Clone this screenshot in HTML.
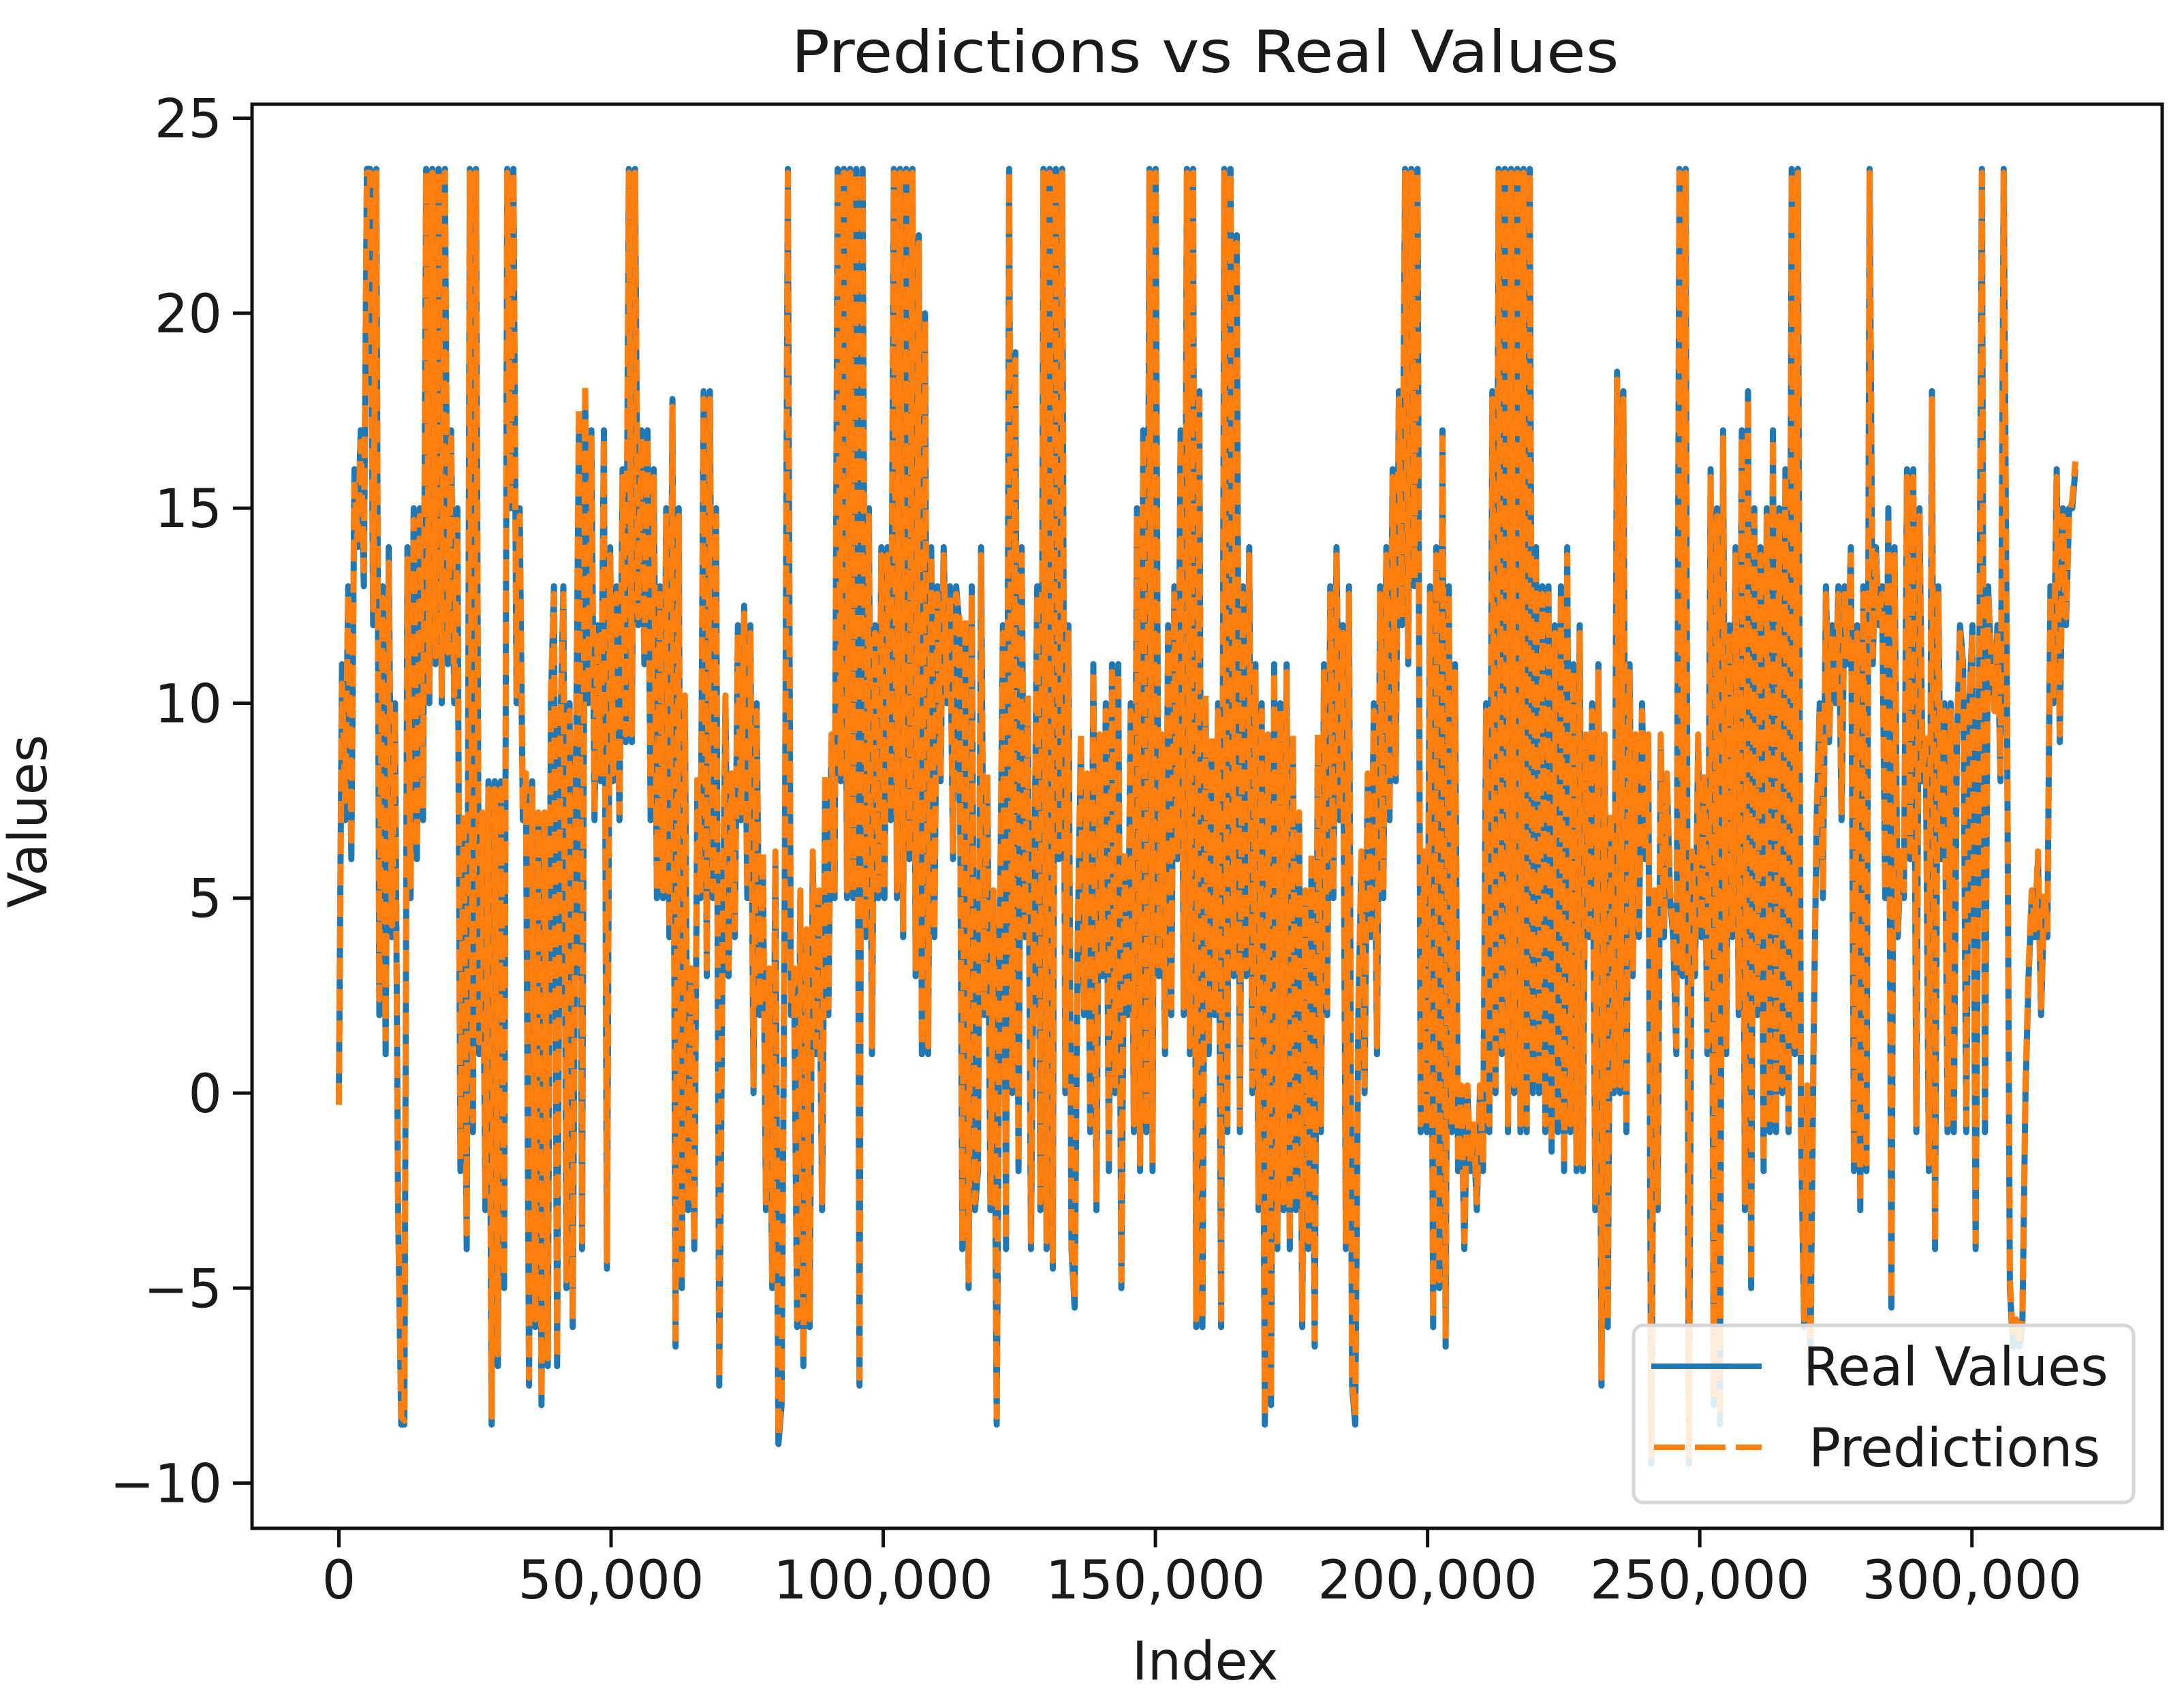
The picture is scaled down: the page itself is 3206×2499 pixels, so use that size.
<!DOCTYPE html>
<html><head><meta charset="utf-8"><style>
html,body{margin:0;padding:0;background:#fff}
svg{display:block}
text{font-family:"DejaVu Sans","Liberation Sans",sans-serif;fill:#1a1a1a}
</style></head><body>
<svg id="chart" width="3206" height="2499" viewBox="0 0 3206 2499" xmlns="http://www.w3.org/2000/svg">
<rect width="3206" height="2499" fill="#fff"/>
<text x="1769" y="106" font-size="86" text-anchor="middle" textLength="1215" lengthAdjust="spacingAndGlyphs">Predictions vs Real Values</text>
<g id="plot"></g>
<g id="axes"></g>
<text x="1769" y="2466" font-size="78" text-anchor="middle">Index</text>
<text x="0" y="0" font-size="78" text-anchor="middle" transform="translate(68,1206) rotate(-90)">Values</text>
<g>
<rect x="2398" y="1946" width="734" height="260" rx="14" fill="#fff" fill-opacity="0.85" stroke="#d6d6d6" stroke-width="5"/>
<line x1="2424" y1="2006" x2="2586" y2="2006" stroke="#1f77b4" stroke-width="8"/>
<text x="2647" y="2034" font-size="78">Real Values</text>
<line x1="2428" y1="2125" x2="2586" y2="2125" stroke="#ff7f0e" stroke-width="8" stroke-dasharray="45,15"/>
<text x="2655" y="2153" font-size="78">Predictions</text>
</g>
</svg>
<script>
const xTicks = [0, 50000, 100000, 150000, 200000, 250000, 300000];
const xTickLabels = ["0","50,000","100,000","150,000","200,000","250,000","300,000"];
const yTicks = [-10, -5, 0, 5, 10, 15, 20, 25];
const yTickLabels = ["\u221210","\u22125","0","5","10","15","20","25"];
const indexEnd = 319000;
const realValues = [0,11,7,13,6,16,14,17,13,23.7,23.7,12,23.7,2,13,1,14,4,10,-3,-8.5,-8.5,14,5,15,6,15,7,23.7,10,23.7,11,23.7,10,23.7,11,17,10,15,-2,7,-4,23.7,-1,23.7,1,7,-3,8,-8.5,8,-7,8,-5,23.7,15,23.7,10,15,7,8,-7.5,8,-6,7,-8,7,-7,10,13,-7,9,13,-5,10,-6,8,17,-4,18,10,17,7,12,8,17,-4.5,14,8,13,7,16,9,23.7,9,23.7,12,17,11,17,7,16,5,13,5,15,4,17.8,-6.5,15,-5,10,-3,3,-4,8,5,18,3,18,5,15,-7.5,3,10,3,8,4,12,7,12.5,5,12,0,10,2,6,-3,3,-5,6,-9,-8,5,23.7,2,3,-6,5,-7,4,-6,6,1,5,-3,8,2,9,5,23.7,8,23.7,5,23.7,5,23.7,-7.5,23.7,4,15,1,12,5,14,5,14,7,23.7,5,23.7,4,23.7,6,23.7,3,22,1,20,1,14,4,13,8,14,10,13,6,13,12,-4,12,-5,13,-3,-2,14,2,8,-3,5,-8.5,4,12,-4,23.7,0,19,-2,14,4,10,-4,5,13,-3,23.7,-4,23.7,-4.5,23.7,6,23.7,0,12,-4,-5.5,4,9,2,8,-1,11,-3,9,3,10,-2,11,0,11,-5,6,2,10,-1,15,-2,17,-1,23.7,-2,23.7,3,9,1,12,2,13,6,17,2,23.7,1,23.7,-6,18,-6,10,1,9,2,10,-6,23.7,-1,23.7,3,22,-1,13,3,14,0,11,-3,10,-8.5,9,-8,11,-4,10,-3,11,-4,9,-3,7,-6,5,-4,6,-6.5,9,-1,11,2,13,5,14,7,12,-4,13,-7.5,-8.5,2,6,0,8,4,10,1,13,5,14,7,16,8,18,12,23.7,11,23.7,13,23.7,-1,6,-1,13,-6,14,-5,17,-6.5,13,-1,11,-2,0,-4,0,-2,-1,-3,0,-2,10,-1,18,0,23.7,1,23.7,-1,23.7,0,23.7,-1,23.7,-1,23.7,0,14,0,13,-1,13,-1.5,12,-1,13,-2,14,-1,11,-2,12,-2,9,4,10,-3,11,-7.5,9,-6,7,0,18.5,0,18,-1,11,3,9,4,10,6,9,-9.5,5,-3,9,4,8,5,4,1,23.7,3,23.7,-9.5,6,3,9,4,8,1,16,-8,15,-8.5,17,1,12,4,14,2,17,-3,18,-5,15,2,14,-2,15,-1,17,-1,15,0,16,-1,23.7,1,23.7,-1,-6,0,-7,1,7,10,5,13,9,12,10,13,7,13,11,14,-2,12,-3,13,-2,23.7,11,14,12,13,5,15,-5.5,14,4,6,5,16,6,16,-1,15,8,9,-2,18,-4,13,6,10,-1,10,-1,9,12,11,-1,10,12,-4,8,23.7,-1,13,11,10,12,8,23.7,11,-5,-6.5,-6,-6.5,-6,0,3,5,4,6,2,5,4,13,10,16,9,15,12,15,15,16];
const predValues = [-0.3,10.5,7.5,12.8,6.3,15.6,14.2,16.7,13.4,23.6,23.6,12.4,23.6,2.4,12.7,1.4,13.6,4.3,9.8,-2.6,-8.3,-8.4,13.7,5.3,14.7,6.3,14.8,7.3,23.6,10.3,23.6,11.2,23.6,10.2,23.6,11.3,16.8,10.2,14.7,-1.7,7.2,-3.6,23.6,-0.7,23.6,1.3,7.2,-2.7,7.8,-8.3,7.8,-6.7,7.8,-4.7,23.6,15.2,23.6,10.2,14.8,7.2,8.2,-7.3,7.8,-5.8,7.2,-7.8,7.2,-6.8,10.2,12.8,-6.8,9.2,12.8,-4.8,9.8,-5.8,8.2,17.6,-3.8,18.2,10.2,16.8,7.2,11.8,8.2,16.8,-4.3,13.8,8.2,12.8,7.2,15.8,9.2,23.6,9.2,23.6,12.2,16.8,11.2,16.8,7.2,15.8,5.2,12.8,5.2,14.8,4.2,17.6,-6.3,14.8,-4.8,10.2,-2.8,3.2,-3.8,8.2,5.2,17.8,3.2,17.8,5.2,14.8,-7.3,3.2,10.2,3.2,8.2,4.2,11.8,7.2,12.3,5.2,11.8,0.2,9.8,2.2,6.2,-2.8,3.2,-4.8,6.2,-8.8,-7.8,5.2,23.6,2.2,3.2,-5.8,5.2,-6.8,4.2,-5.8,6.2,1.2,5.2,-2.8,8.2,2.2,9.2,5.2,23.6,8.2,23.6,5.2,23.6,5.2,23.6,-7.3,23.6,4.2,14.8,1.2,11.8,5.2,13.8,5.2,13.8,7.2,23.6,5.2,23.6,4.2,23.6,6.2,23.6,3.2,21.8,1.2,19.8,1.2,13.8,4.2,12.8,8.2,13.8,10.2,12.8,6.2,12.8,12.2,-3.8,12.2,-4.8,12.8,-2.8,-1.8,13.8,2.2,8.2,-2.8,5.2,-8.3,4.2,11.8,-3.8,23.6,0.2,18.8,-1.8,13.8,4.2,10.2,-3.8,5.2,12.8,-2.8,23.6,-3.8,23.6,-4.3,23.6,6.2,23.6,0.2,11.8,-3.8,-5.3,4.2,9.2,2.2,8.2,-0.8,10.8,-2.8,9.2,3.2,9.8,-1.8,10.8,0.2,10.8,-4.8,6.2,2.2,9.8,-0.8,14.8,-1.8,16.8,-0.8,23.6,-1.8,23.6,3.2,9.2,1.2,11.8,2.2,12.8,6.2,16.8,2.2,23.6,1.2,23.6,-5.8,17.8,-5.8,10.2,1.2,9.2,2.2,9.8,-5.8,23.6,-0.8,23.6,3.2,21.8,-0.8,12.8,3.2,13.8,0.2,10.8,-2.8,9.8,-8.3,9.2,-7.8,10.8,-3.8,9.8,-2.8,10.8,-3.8,9.2,-2.8,7.2,-5.8,5.2,-3.8,6.2,-6.3,9.2,-0.8,10.8,2.2,12.8,5.2,13.8,7.2,11.8,-3.8,12.8,-7.3,-8.3,2.2,6.2,0.2,8.2,4.2,9.8,1.2,12.8,5.2,13.8,7.2,15.8,8.2,17.8,12.2,23.6,11.2,23.6,13.2,23.6,-0.8,6.2,-0.8,12.8,-5.8,13.8,-4.8,16.8,-6.3,12.8,-0.8,10.8,-1.8,0.2,-3.8,0.2,-1.8,-0.8,-2.8,0.2,-1.8,9.8,-0.8,17.8,0.2,23.6,1.2,23.6,-0.8,23.6,0.2,23.6,-0.8,23.6,-0.8,23.6,0.2,13.8,0.2,12.8,-0.8,12.8,-1.3,11.8,-0.8,12.8,-1.8,13.8,-0.8,10.8,-1.8,11.8,-1.8,9.2,4.2,9.8,-2.8,10.8,-7.3,9.2,-5.8,7.2,0.2,18.3,0.2,17.8,-0.8,10.8,3.2,9.2,4.2,9.8,6.2,9.2,-9.3,5.2,-2.8,9.2,4.2,8.2,5.2,4.2,1.2,23.6,3.2,23.6,-9.3,6.2,3.2,9.2,4.2,8.2,1.2,15.8,-7.8,14.8,-8.3,16.8,1.2,11.8,4.2,13.8,2.2,16.8,-2.8,17.8,-4.8,14.8,2.2,13.8,-1.8,14.8,-0.8,16.8,-0.8,14.8,0.2,15.8,-0.8,23.6,1.2,23.6,-0.8,-5.8,0.2,-6.8,1.2,7.2,9.8,5.2,12.8,9.2,11.8,10.2,12.8,7.2,12.8,11.2,13.8,-1.8,11.8,-2.8,12.8,-1.8,23.6,11.2,13.8,12.2,12.8,5.2,14.8,-5.3,13.8,4.2,6.2,5.2,15.8,6.2,15.8,-0.8,14.8,8.2,9.2,-1.8,17.8,-3.8,12.8,6.2,9.8,-0.8,9.8,-0.8,9.2,11.8,10.8,-0.8,9.8,11.8,-3.8,8.2,23.6,-0.8,12.8,11.2,9.8,11.8,8.2,23.6,11.2,-4.8,-6.3,-5.8,-6.3,-5.8,0.2,3.2,5.2,4.2,6.2,2.2,5.2,4.2,12.8,10.2,15.8,9.2,14.8,12.2,14.8,15.2,16.2];

const NS='http://www.w3.org/2000/svg';
const X0=370, X1=3174, Y0=153, Y1=2244;
const xMin=-15950, xMax=334950, yMin=-11.16, yMax=25.36;
function xScale(v){return X0+(v-xMin)/(xMax-xMin)*(X1-X0);}
function yScale(v){return Y1-(v-yMin)/(yMax-yMin)*(Y1-Y0);}
function mk(tag,attrs,parent){const e=document.createElementNS(NS,tag);for(const k in attrs)e.setAttribute(k,attrs[k]);parent.appendChild(e);return e;}
const plot=document.getElementById('plot');
const axes=document.getElementById('axes');
function pathFor(vals){
  const n=vals.length;let d='';
  for(let i=0;i<n;i++){const idx=indexEnd*i/(n-1);d+=(i?'L':'M')+xScale(idx).toFixed(1)+' '+yScale(vals[i]).toFixed(1);}
  return d;
}
const real=mk('path',{d:pathFor(realValues),fill:'none',stroke:'#1f77b4','stroke-width':9,'stroke-linejoin':'round'},plot);


const pred=mk('path',{d:pathFor(predValues),fill:'none',stroke:'#ff7f0e','stroke-width':9,'stroke-dasharray':'32,14','stroke-linejoin':'round'},plot);


const frame=mk('rect',{x:X0,y:Y0,width:X1-X0,height:Y1-Y0,fill:'none',stroke:'#111','stroke-width':5},axes);


xTicks.forEach((t,i)=>{
  const x=xScale(t);
  const tk=mk('line',{x1:x,y1:Y1,x2:x,y2:Y1+28,stroke:'#111','stroke-width':5},axes);
  
  
  const tl=mk('text',{x:x,y:2347,'font-size':78,'text-anchor':'middle'},axes);
  tl.textContent=xTickLabels[i];
  
  
});
yTicks.forEach((t,i)=>{
  const y=yScale(t);
  const tk=mk('line',{x1:X0-28,y1:y,x2:X0,y2:y,stroke:'#111','stroke-width':5},axes);
  
  
  const tl=mk('text',{x:X0-44,y:y+28,'font-size':78,'text-anchor':'end'},axes);
  tl.textContent=yTickLabels[i];
  
  
});
</script>
</body></html>
